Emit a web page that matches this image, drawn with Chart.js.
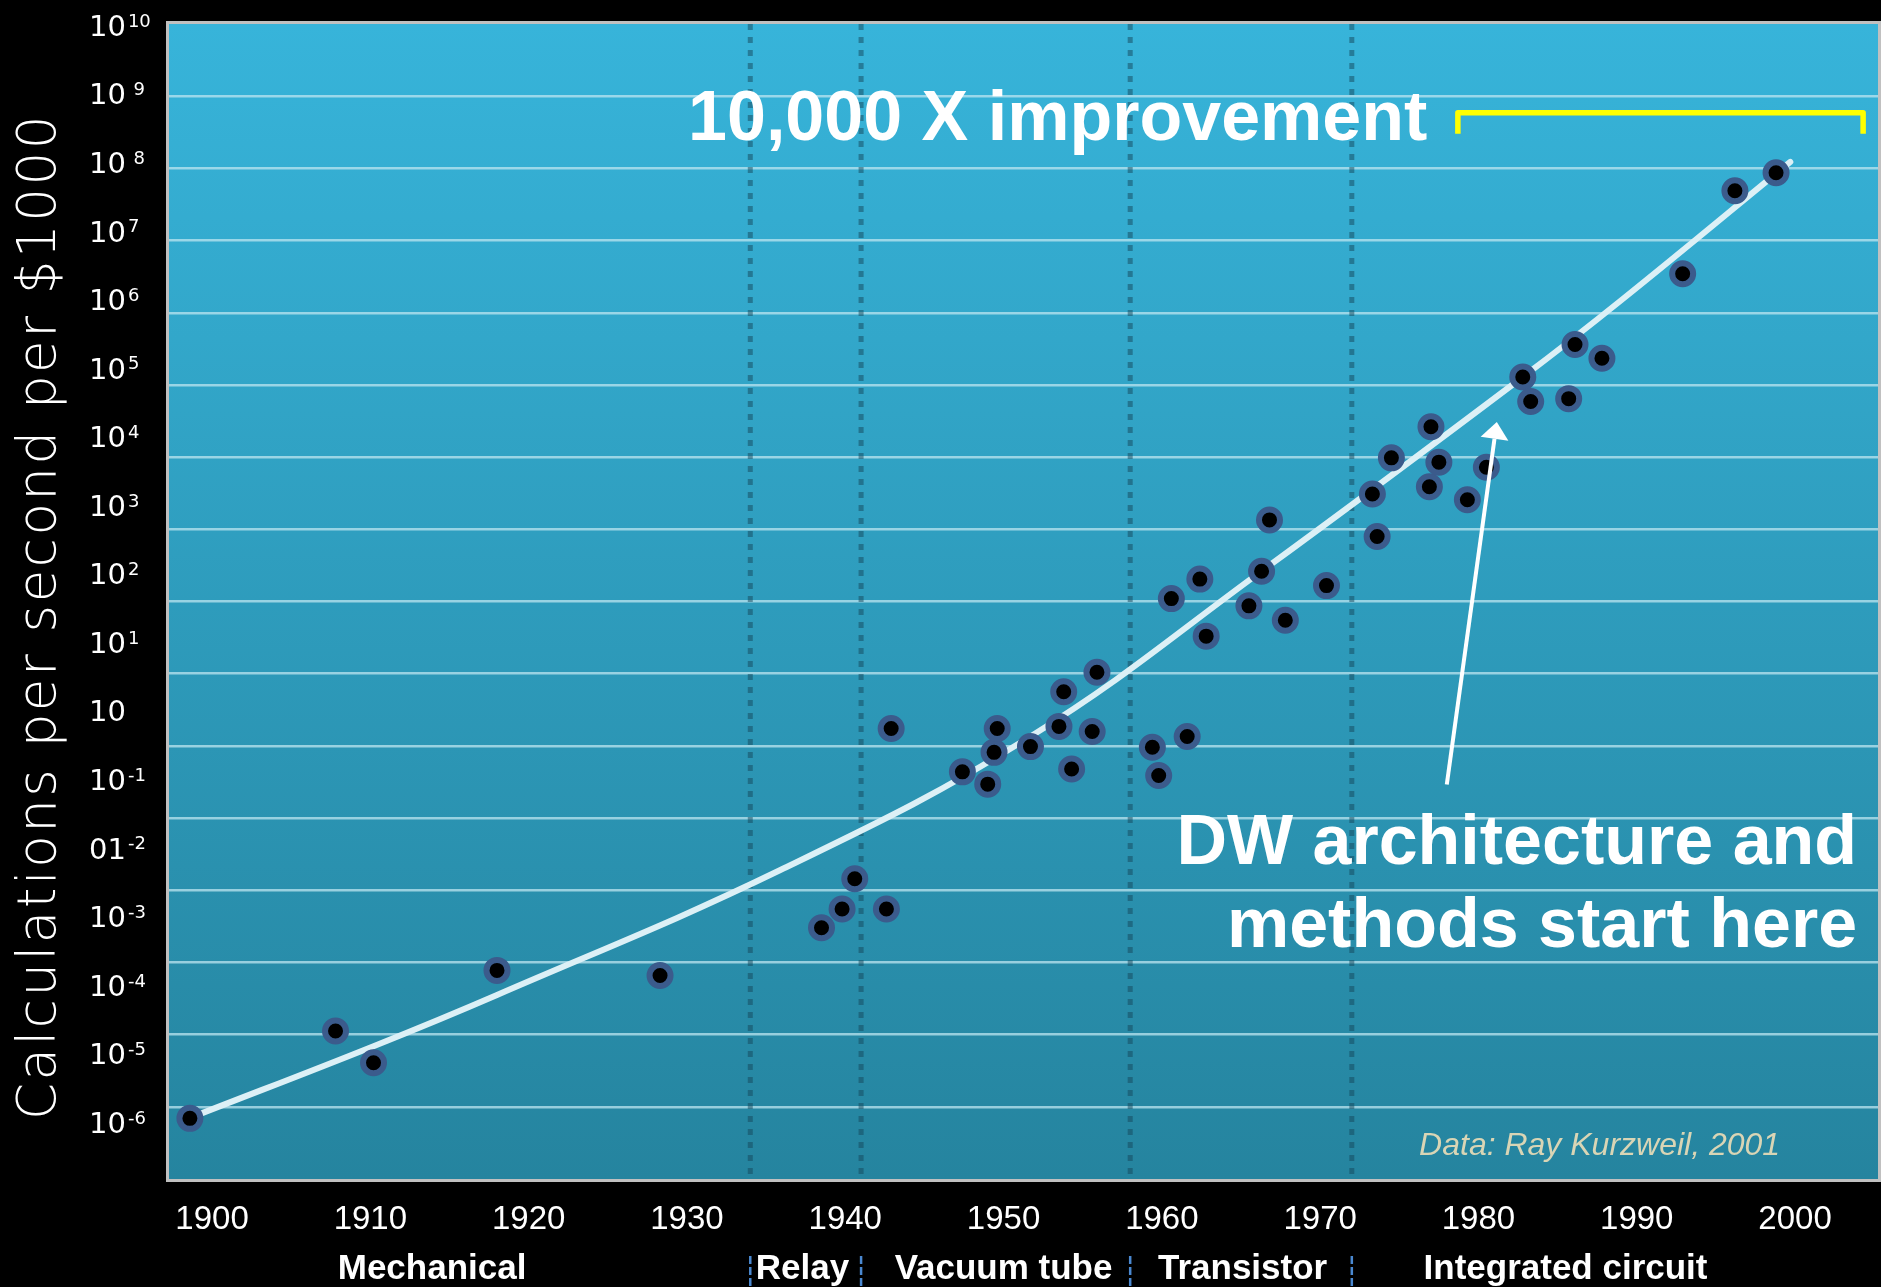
<!DOCTYPE html>
<html lang="en">
<head>
<meta charset="utf-8">
<title>Calculations per second per $1000</title>
<script src="https://cdn.jsdelivr.net/npm/chart.js"></script>
<style>
  html, body { margin: 0; padding: 0; background: #000; }
  canvas { display: block; }
</style>
</head>
<body>
<canvas id="kurzweilChart" width="1881" height="1287"></canvas>
<script>
// machines: year and log10 of calculations per second per $1000
const machineYears = [1898.6, 1907.8, 1910.2, 1918.0, 1928.3, 1938.5, 1939.8, 1940.6, 1942.6, 1942.9,
  1947.4, 1949.0, 1949.4, 1949.6, 1951.7, 1953.5, 1953.8, 1954.3, 1955.6, 1955.9,
  1959.4, 1959.8, 1961.6, 1960.6, 1962.4, 1962.8, 1965.5, 1966.3, 1966.8, 1967.8,
  1970.4, 1973.3, 1973.6, 1974.5, 1976.9, 1977.0, 1977.5, 1979.3, 1980.5, 1982.8,
  1983.3, 1985.7, 1986.1, 1987.8, 1992.9, 1996.2, 1998.8];
const machineLog10 = [-5.16, -3.95, -4.39, -3.11, -3.18, -2.52, -2.26, -1.84, -2.26, 0.24,
  -0.36, -0.53, -0.09, 0.24, -0.01, 0.27, 0.75, -0.32, 0.20, 1.02,
  -0.02, -0.41, 0.13, 2.04, 2.31, 1.52, 1.94, 2.42, 3.13, 1.74,
  2.22, 3.49, 2.90, 3.99, 3.59, 4.42, 3.93, 3.41, 3.86, 5.11,
  4.77, 4.81, 5.56, 5.37, 6.54, 7.69, 7.94];

// trend curve
const trendYears = [1899.0, 1910.2, 1918.0, 1935.9, 1951.7, 1966.3, 1982.8, 1989.0, 1999.7];
const trendLog10 = [-5.12, -4.16, -3.45, -1.72, 0.13, 2.42, 5.11, 6.17, 8.09];

const xTickYears = [1900, 1910, 1920, 1930, 1940, 1950, 1960, 1970, 1980, 1990, 2000];
const yTickExps = [10, 9, 8, 7, 6, 5, 4, 3, 2, 1, 0, -1, -2, -3, -4, -5, -6];
const yTickBase = ['10', '10', '10', '10', '10', '10', '10', '10', '10', '10', '10', '10', '01', '10', '10', '10', '10'];
const yTickSup = ['10', ' 9', ' 8', '7', '6', '5', '4', '3', '2', '1', '', '-1', '-2', '-3', '-4', '-5', '-6'];

const eraBounds = [1934, 1941, 1958, 1972];
const eraNames = ['Mechanical', 'Relay', 'Vacuum tube', 'Transistor', 'Integrated circuit'];
const eraLabelYears = [1913.9, 1937.3, 1950.0, 1965.1, 1985.5];

const ctx = document.getElementById('kurzweilChart').getContext('2d');

const decorations = {
  id: 'decorations',
  beforeDraw(chart) {
    const c = chart.ctx, a = chart.chartArea;
    c.save();
    c.fillStyle = '#000';
    c.fillRect(0, 0, chart.width, chart.height);
    const g = c.createLinearGradient(0, a.top, 0, a.bottom);
    g.addColorStop(0, '#37b4da');
    g.addColorStop(1, '#25849f');
    c.fillStyle = g;
    c.fillRect(a.left, a.top, a.right - a.left, a.bottom - a.top);
    c.restore();
  },
  beforeDatasetsDraw(chart) {
    const c = chart.ctx, a = chart.chartArea, x = chart.scales.x;
    c.save();
    c.strokeStyle = 'rgba(20, 70, 90, 0.5)';
    c.lineWidth = 5;
    c.setLineDash([6, 7]);
    eraBounds.forEach(yr => {
      const px = x.getPixelForValue(yr);
      c.beginPath();
      c.moveTo(px, a.top);
      c.lineTo(px, a.bottom);
      c.stroke();
    });
    c.restore();
  },
  afterDatasetsDraw(chart) {
    const c = chart.ctx, x = chart.scales.x, y = chart.scales.y;
    const px = v => x.getPixelForValue(v), py = v => y.getPixelForValue(v);
    c.save();
    // headline
    c.fillStyle = '#fff';
    c.font = 'bold 70px "Liberation Sans", Arial, sans-serif';
    c.textAlign = 'left';
    c.textBaseline = 'alphabetic';
    c.fillText('10,000 X improvement', px(1930.07), py(8.39));
    // bracket
    c.strokeStyle = '#ffff00';
    c.lineWidth = 5.5;
    c.lineJoin = 'round';
    c.beginPath();
    c.moveTo(px(1978.7), py(8.48));
    c.lineTo(px(1978.7), py(8.77));
    c.lineTo(px(2004.3), py(8.77));
    c.lineTo(px(2004.3), py(8.48));
    c.stroke();
    // arrow
    const x0 = px(1978.0), y0 = py(-0.536), x1 = px(1981.16), y1 = py(4.488);
    const ang = Math.atan2(y1 - y0, x1 - x0), hl = 17, hw = 14;
    const bx = x1 - hl * Math.cos(ang), by = y1 - hl * Math.sin(ang);
    c.strokeStyle = '#fff';
    c.lineWidth = 4;
    c.beginPath();
    c.moveTo(x0, y0);
    c.lineTo(bx, by);
    c.stroke();
    c.fillStyle = '#fff';
    c.beginPath();
    c.moveTo(x1, y1);
    c.lineTo(bx + hw * Math.sin(ang), by - hw * Math.cos(ang));
    c.lineTo(bx - hw * Math.sin(ang), by + hw * Math.cos(ang));
    c.closePath();
    c.fill();
    // DW text
    c.textAlign = 'right';
    c.fillText('DW architecture and', px(2003.92), py(-1.637));
    c.fillText('methods start here', px(2003.92), py(-2.786));
    // credit
    c.textAlign = 'left';
    c.fillStyle = '#d9d5b5';
    c.font = 'italic 32px "Liberation Sans", Arial, sans-serif';
    c.fillText('Data: Ray Kurzweil, 2001', px(1976.25), py(-5.668));
    c.restore();
  },
  afterDraw(chart) {
    const c = chart.ctx, a = chart.chartArea, x = chart.scales.x, yl = chart.scales.yLabels;
    c.save();
    // plot border
    c.strokeStyle = '#c0c0c0';
    c.lineWidth = 3;
    c.strokeRect(a.left - 1.5, a.top - 1.5, a.right - a.left + 3, a.bottom - a.top + 3);
    // y tick labels with superscripts
    c.fillStyle = '#fff';
    c.textAlign = 'left';
    c.textBaseline = 'alphabetic';
    yTickExps.forEach((e, i) => {
      const yc = yl.getPixelForValue(e);
      c.font = '29px "DejaVu Sans", sans-serif';
      c.fillText(yTickBase[i], 89, yc + 10.4);
      const w = c.measureText(yTickBase[i]).width;
      c.font = '18px "DejaVu Sans", sans-serif';
      c.fillText(yTickSup[i], 89 + w + 2, yc + 1.2);
    });
    // y title
    c.save();
    c.translate(54.5, 616.5);
    c.rotate(-Math.PI / 2);
    c.font = '200 53px "DejaVu Sans", sans-serif';
    c.letterSpacing = '2.5px';
    c.textAlign = 'center';
    c.fillText('Calculations per second per $1000', 0, 0);
    c.restore();
    // era labels and separators
    c.font = 'bold 35px "Liberation Sans", Arial, sans-serif';
    c.textAlign = 'center';
    eraNames.forEach((n, i) => c.fillText(n, x.getPixelForValue(eraLabelYears[i]), 1279));
    c.strokeStyle = '#4a88d0';
    c.lineWidth = 2.5;
    c.setLineDash([8, 3]);
    eraBounds.forEach(yr => {
      const px = x.getPixelForValue(yr);
      c.beginPath();
      c.moveTo(px, 1256);
      c.lineTo(px, 1287);
      c.stroke();
    });
    c.restore();
  }
};

new Chart(ctx, {
  type: 'scatter',
  data: {
    datasets: [
      {
        type: 'scatter',
        label: 'Machines',
        data: machineYears.map((yr, i) => ({ x: yr, y: machineLog10[i] })),
        pointRadius: 10.5,
        borderWidth: 6,
        backgroundColor: '#000',
        borderColor: '#3b5b8c',
        order: 1
      },
      {
        type: 'line',
        label: 'Trend',
        data: trendYears.map((yr, i) => ({ x: yr, y: trendLog10[i] })),
        borderColor: '#dcf0f6',
        borderWidth: 6,
        borderCapStyle: 'round',
        pointRadius: 0,
        fill: false,
        tension: 0.4,
        order: 2
      }
    ]
  },
  options: {
    responsive: false,
    animation: false,
    layout: { autoPadding: false, padding: { top: 24, right: 3, left: 0, bottom: 0 } },
    plugins: { legend: { display: false }, tooltip: { enabled: false } },
    scales: {
      x: {
        type: 'linear',
        min: 1897.28,
        max: 2005.24,
        grid: { display: false },
        border: { display: false },
        afterBuildTicks: s => { s.ticks = xTickYears.map(v => ({ value: v })); },
        afterFit: s => { s.height = 108; s.paddingLeft = 0; s.paddingRight = 0; },
        ticks: {
          color: '#fff',
          padding: 13,
          font: { family: '"Liberation Sans", Arial, sans-serif', size: 33 },
          callback: v => String(v)
        }
      },
      y: {
        type: 'linear',
        min: -6,
        max: 10,
        border: { display: false },
        grid: { color: 'rgba(190, 230, 240, 0.75)', lineWidth: 2.5, drawTicks: false },
        afterBuildTicks: s => { s.ticks = yTickExps.filter(e => e > -6 && e < 10).map(v => ({ value: v })); },
        afterFit: s => { s.width = 169; s.paddingTop = 0; s.paddingBottom = 0; },
        ticks: { display: false }
      },
      yLabels: {
        type: 'linear',
        display: false,
        min: -6.825,
        max: 10.022
      }
    }
  },
  plugins: [decorations]
});
</script>
</body>
</html>
